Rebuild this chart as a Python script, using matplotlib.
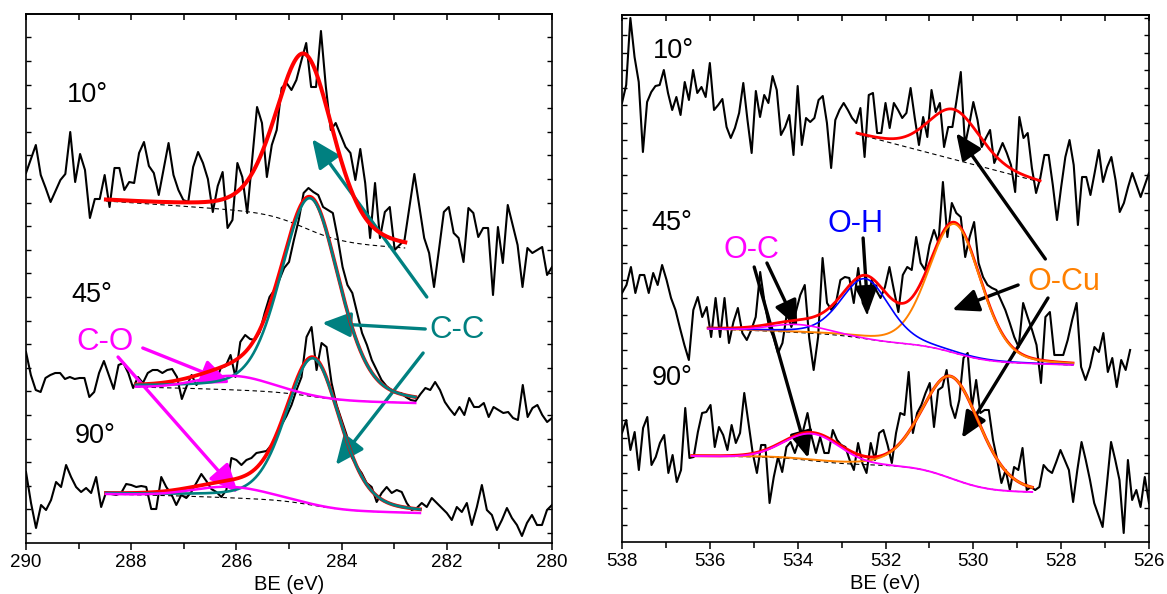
import numpy as np
import matplotlib
matplotlib.use("Agg")
import matplotlib.pyplot as plt
from matplotlib.ticker import MultipleLocator, NullFormatter

plt.rcParams['font.family'] = ['Liberation Sans', 'DejaVu Sans']

# ------------------------------------------------------------------ data
# C 1s raw spectra (evenly spaced from 290 eV to 280 eV), arbitrary intensity
c1s_range = (290.0, 280.0)
c1s_10 = [370, 384, 398, 368, 355, 341, 352, 363, 369, 411,
          361, 389, 373, 325, 344, 344, 368, 336, 375, 375,
          353, 361, 360, 390, 401, 377, 370, 348, 374, 400,
          368, 353, 343, 341, 376, 391, 380, 364, 331, 357,
          371, 315, 323, 380, 366, 330, 383, 436, 420, 366,
          398, 413, 455, 460, 453, 463, 482, 500, 456, 456,
          512, 456, 413, 420, 408, 396, 390, 363, 394, 360,
          305, 360, 305, 331, 336, 293, 298, 303, 336, 369,
          337, 305, 290, 256, 293, 331, 336, 310, 305, 281,
          335, 330, 306, 315, 315, 248, 316, 280, 338, 318,
          298, 256, 295, 290, 293, 296, 268, 276]
c1s_45 = [191, 168, 153, 151, 165, 168, 170, 170, 164, 166,
          164, 165, 165, 146, 151, 170, 182, 168, 154, 178,
          180, 170, 155, 166, 160, 170, 173, 173, 170, 173,
          174, 166, 144, 157, 168, 158, 165, 165, 171, 162,
          175, 177, 188, 166, 201, 208, 204, 203, 211, 230,
          246, 253, 263, 275, 281, 303, 323, 350, 355, 351,
          348, 336, 333, 330, 305, 276, 258, 250, 230, 210,
          198, 183, 173, 163, 157, 153, 150, 150, 146, 143,
          142, 149, 155, 153, 161, 153, 141, 134, 128, 136,
          128, 145, 136, 136, 140, 126, 136, 133, 130, 131,
          125, 123, 158, 126, 135, 138, 128, 121, 125]
c1s_90 = [71, 40, 15, 38, 33, 43, 61, 56, 78, 66,
          56, 51, 55, 50, 66, 36, 51, 49, 48, 50,
          59, 58, 56, 57, 56, 34, 34, 66, 56, 49,
          38, 48, 45, 51, 60, 69, 62, 54, 51, 46,
          53, 85, 83, 78, 83, 85, 90, 91, 92, 98,
          108, 118, 127, 138, 153, 166, 206, 216, 173, 200,
          196, 160, 138, 123, 108, 86, 77, 70, 60, 56,
          41, 50, 56, 50, 53, 51, 40, 33, 35, 40,
          36, 45, 40, 35, 30, 23, 36, 31, 40, 18,
          36, 58, 33, 28, 13, 23, 35, 25, 18, 7,
          20, 28, 18, 18, 33, 38]

# O 1s raw spectra
o1s_10_range = (538.0, 526.0)
o1s_10 = [439, 457, 524, 485, 460, 390, 440, 450, 456, 457,
          472, 449, 432, 445, 427, 460, 442, 472, 449, 455,
          445, 479, 432, 437, 443, 415, 404, 414, 429, 459,
          422, 389, 451, 425, 447, 439, 466, 452, 407, 415,
          427, 387, 456, 397, 424, 420, 424, 442, 446, 419,
          374, 422, 432, 439, 432, 424, 419, 434, 385, 447,
          449, 409, 409, 439, 414, 439, 432, 424, 429, 454,
          424, 397, 425, 405, 452, 430, 439, 395, 415, 415,
          442, 470, 397, 417, 440, 422, 395, 404, 412, 379,
          389, 399, 389, 377, 350, 425, 404, 409, 374, 349,
          364, 387, 387, 357, 322, 355, 385, 402, 377, 317,
          365, 365, 347, 369, 392, 360, 375, 385, 362, 330,
          339, 355, 369, 357, 345, 357, 369]
o1s_45_range = (538.0, 526.43)
o1s_45 = [249, 257, 275, 249, 267, 267, 249, 269, 257, 277,
          262, 244, 232, 214, 197, 182, 232, 245, 225, 235,
          205, 244, 205, 244, 199, 220, 234, 209, 202, 212,
          225, 270, 239, 215, 205, 189, 199, 229, 215, 230,
          247, 257, 204, 172, 205, 284, 239, 232, 239, 262,
          265, 264, 239, 274, 239, 229, 262, 252, 244, 255,
          275, 252, 230, 267, 275, 272, 305, 279, 272, 297,
          312, 299, 360, 305, 339, 329, 325, 285, 305, 320,
          279, 265, 257, 254, 252, 242, 232, 219, 205, 195,
          239, 225, 212, 197, 159, 225, 230, 187, 187, 187,
          202, 222, 239, 175, 162, 175, 195, 190, 209, 170,
          184, 155, 182, 172, 192]
o1s_90_range = (538.0, 526.0)
o1s_90 = [109, 122, 92, 110, 72, 114, 125, 77, 85, 99,
          107, 69, 87, 60, 72, 134, 84, 85, 110, 129,
          130, 137, 95, 115, 107, 92, 117, 99, 109, 149,
          119, 89, 69, 97, 97, 39, 65, 85, 70, 95,
          100, 89, 102, 112, 129, 105, 89, 105, 89, 89,
          112, 102, 97, 95, 82, 72, 99, 79, 69, 99,
          82, 109, 112, 97, 79, 109, 129, 127, 170, 109,
          129, 137, 149, 159, 115, 152, 155, 172, 137, 124,
          142, 184, 189, 135, 162, 129, 132, 132, 102, 82,
          59, 72, 52, 75, 72, 94, 52, 55, 52, 55,
          77, 72, 69, 80, 92, 82, 72, 40, 72, 100,
          82, 62, 39, 27, 15, 57, 100, 82, 62, 9,
          82, 42, 52, 35, 65, 39]

# Fitted components: (centre eV, height, FWHM eV, Lorentzian fraction)
c10_range, c10_bg, c10_k = (288.48, 282.79), (342, 295), 0.6
c10_cc = (284.70, 174, 1.30, 0.3)
c45_range, c45_bg, c45_k = (287.91, 282.60), (156, 140), 0.6
c45_cc = (284.60, 198, 1.31, 0.3)
c45_co = (286.05, 14, 1.6, 0.0)
c90_range, c90_bg, c90_k = (288.48, 282.51), (49, 30), 0.6
c90_cc = (284.54, 147, 1.22, 0.3)
c90_co = (286.10, 11, 1.7, 0.0)

o10_range, o10_bg, o10_k = (532.65, 528.48), (408, 360), 0.0
o10_ocu = (530.45, 50, 1.4, 0.2)
o45_range, o45_bg, o45_k = (536.04, 527.73), (213, 177), 0.7
o45_oc = (534.00, 8, 1.5, 0.0)
o45_oh = (532.46, 60, 1.3, 0.3)
o45_ocu = (530.42, 129, 1.4, 0.2)
o90_range, o90_bg, o90_k = (536.41, 528.66), (86, 50), 0.9
o90_oc = (533.67, 27, 1.5, 0.0)
o90_ocu = (530.50, 102, 1.55, 0.2)


# ------------------------------------------------------------------ helpers
def pvoigt(E, c, h, w, eta):
    x = (E - c) / w
    return h * (eta / (1 + 4 * x ** 2) + (1 - eta) * np.exp(-4 * np.log(2) * x ** 2))


def fit_curves(rng, bg_ends, comps, k):
    E = np.linspace(rng[0], rng[1], 500)
    peaks = [pvoigt(E, *p) for p in comps]
    tot = np.sum(peaks, axis=0)
    rev = tot[::-1]
    dE = np.abs(np.diff(E[::-1]))
    cum = np.concatenate([[0.0], np.cumsum(0.5 * (rev[1:] + rev[:-1]) * dE)])[::-1]
    shir = cum / cum[0]
    lin = (E - rng[1]) / (rng[0] - rng[1])
    frac = k * shir + (1 - k) * lin
    bg = bg_ends[1] + (bg_ends[0] - bg_ends[1]) * frac
    return E, bg, [bg + p for p in peaks], bg + tot


def energies(rng, vals):
    return np.linspace(rng[0], rng[1], len(vals))


def arrow(ax, start, end, color, lw=2.2, ms=20):
    ax.annotate('', xy=end, xytext=start, xycoords='data', textcoords='data',
                arrowprops=dict(arrowstyle='-|>,head_length=0.8,head_width=0.35',
                                color=color, lw=lw, shrinkA=0, shrinkB=0,
                                mutation_scale=ms))


def style_axes(ax, xlim, ylim, yticks):
    ax.set_xlim(*xlim)
    ax.set_ylim(*ylim)
    ax.xaxis.set_major_locator(MultipleLocator(2))
    ax.xaxis.set_minor_locator(MultipleLocator(1))
    ax.tick_params(axis='x', which='major', direction='out', length=5, width=1.1,
                   labelsize=13.5, pad=3, top=False)
    ax.tick_params(axis='x', which='minor', direction='out', length=4, width=1.1, top=False)
    ax.set_yticks(yticks)
    ax.tick_params(axis='y', which='both', direction='in', length=3.5, width=1,
                   left=True, right=True, labelleft=False, labelright=False)
    sec = ax.secondary_xaxis('top')
    sec.xaxis.set_major_locator(MultipleLocator(1))
    sec.xaxis.set_major_formatter(NullFormatter())
    sec.tick_params(direction='in', length=4, width=1.1)
    for sp in list(ax.spines.values()) + list(sec.spines.values()):
        sp.set_linewidth(1.2)
    ax.set_xlabel('BE (eV)', fontsize=14.5, labelpad=3)


RED = '#FF0000'
TEAL = '#008080'
MAG = '#FF00FF'
BLUE = '#0000FF'
ORANGE = '#FF8000'
dash = (0, (4, 3))

fig = plt.figure(figsize=(11.67, 5.94), dpi=100)
axL = fig.add_axes([26 / 1167, 51 / 594, 526 / 1167, 529 / 594])
axR = fig.add_axes([622 / 1167, 52 / 594, 527 / 1167, 527 / 594])

# ------------------------------------------------------------------ C 1s panel
for vals in (c1s_10, c1s_45, c1s_90):
    axL.plot(energies(c1s_range, vals), vals, color='k', lw=1.5, zorder=2)

E, bg, comps, env = fit_curves(c10_range, c10_bg, [c10_cc], c10_k)
axL.plot(E, bg, color='k', lw=0.8, linestyle=dash, zorder=3)
axL.plot(E, env, color=RED, lw=2.9, zorder=4)

for rng, bge, cc, co, k in ((c45_range, c45_bg, c45_cc, c45_co, c45_k),
                            (c90_range, c90_bg, c90_cc, c90_co, c90_k)):
    E, bg, comps, env = fit_curves(rng, bge, [cc, co], k)
    axL.plot(E, bg, color='k', lw=0.8, linestyle=dash, zorder=3)
    axL.plot(E, env, color=RED, lw=2.7, zorder=4)
    axL.plot(E, comps[0], color=TEAL, lw=1.9, zorder=5)
    axL.plot(E, comps[1], color=MAG, lw=1.8, zorder=6)

style_axes(axL, (290, 280), (0, 529), np.arange(10, 520, 23.6))

axL.text(289.22, 441, '10°', fontsize=19.5, ha='left', va='baseline')
axL.text(289.13, 241, '45°', fontsize=19.5, ha='left', va='baseline')
axL.text(289.07, 100, '90°', fontsize=19.5, ha='left', va='baseline')
axL.text(289.05, 193, 'C-O', fontsize=22.5, color=MAG, ha='left', va='baseline')
axL.text(282.34, 205, 'C-C', fontsize=22.5, color=TEAL, ha='left', va='baseline')

arrow(axL, (282.38, 246), (284.56, 404), TEAL, lw=2.4, ms=22)
arrow(axL, (282.41, 214), (284.37, 220), TEAL, lw=2.4, ms=22)
arrow(axL, (282.45, 190), (284.11, 78), TEAL, lw=2.4, ms=22)
arrow(axL, (287.78, 195), (286.12, 160), MAG, lw=2.4, ms=22)
arrow(axL, (288.25, 186), (285.97, 50), MAG, lw=2.4, ms=22)

# ------------------------------------------------------------------ O 1s panel
axR.plot(energies(o1s_10_range, o1s_10), o1s_10, color='k', lw=1.5, zorder=2)
axR.plot(energies(o1s_45_range, o1s_45), o1s_45, color='k', lw=1.5, zorder=2)
axR.plot(energies(o1s_90_range, o1s_90), o1s_90, color='k', lw=1.5, zorder=2)

E, bg, comps, env = fit_curves(o10_range, o10_bg, [o10_ocu], o10_k)
axR.plot(E, bg, color='k', lw=0.8, linestyle=dash, zorder=3)
axR.plot(E, env, color=RED, lw=2.0, zorder=4)

E, bg, comps, env = fit_curves(o45_range, o45_bg, [o45_oc, o45_oh, o45_ocu], o45_k)
axR.plot(E, bg, color='k', lw=0.8, linestyle=dash, zorder=3)
axR.plot(E, env, color=RED, lw=2.0, zorder=4)
axR.plot(E, comps[2], color=ORANGE, lw=1.4, zorder=5)
axR.plot(E, comps[1], color=BLUE, lw=1.2, zorder=6)
axR.plot(E, comps[0], color=MAG, lw=1.2, zorder=7)

E, bg, comps, env = fit_curves(o90_range, o90_bg, [o90_oc, o90_ocu], o90_k)
axR.plot(E, bg, color='k', lw=0.8, linestyle=dash, zorder=3)
axR.plot(E, env, color=RED, lw=2.2, zorder=4)
axR.plot(E, comps[1], color=ORANGE, lw=1.4, zorder=5)
axR.plot(E, comps[0], color=MAG, lw=1.4, zorder=6)

style_axes(axR, (538, 526), (0, 527), np.arange(17, 527, 17.5))

axR.text(537.29, 484, '10°', fontsize=19.5, ha='left', va='baseline')
axR.text(537.32, 312, '45°', fontsize=19.5, ha='left', va='baseline')
axR.text(537.32, 157, '90°', fontsize=19.5, ha='left', va='baseline')
axR.text(535.70, 284, 'O-C', fontsize=22, color=MAG, ha='left', va='baseline')
axR.text(533.33, 310, 'O-H', fontsize=22, color=BLUE, ha='left', va='baseline')
axR.text(528.77, 252, 'O-Cu', fontsize=22, color=ORANGE, ha='left', va='baseline')

arrow(axR, (534.70, 279), (534.01, 215), 'k', lw=2.4, ms=20)
arrow(axR, (534.99, 275), (533.76, 84), 'k', lw=2.4, ms=20)
arrow(axR, (532.51, 304), (532.40, 229), 'k', lw=2.4, ms=20)
arrow(axR, (528.36, 283), (530.39, 409), 'k', lw=2.4, ms=20)
arrow(axR, (528.98, 257), (530.48, 232), 'k', lw=2.4, ms=20)
arrow(axR, (528.30, 244), (530.26, 104), 'k', lw=2.4, ms=20)

fig.savefig('out.png', dpi=100)
